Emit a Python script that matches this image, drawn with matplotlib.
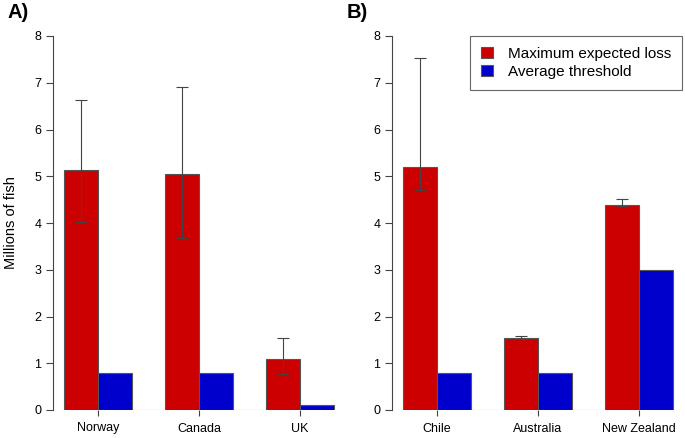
import numpy as np
import matplotlib
matplotlib.use("Agg")
from matplotlib import pyplot as plt
from matplotlib.patches import Patch

plt.rcParams['font.family'] = ['Liberation Sans', 'DejaVu Sans']

# panel A
countries_a = ["Norway", "Canada", "UK"]
loss_a = [5.14, 5.05, 1.10]
loss_lo_a = [4.03, 3.67, 0.78]
loss_hi_a = [6.63, 6.90, 1.53]
thresh_a = [0.8, 0.8, 0.1]

# panel B
countries_b = ["Chile", "Australia", "New Zealand"]
loss_b = [5.19, 1.55, 4.39]
loss_lo_b = [4.70, 1.52, 4.36]
loss_hi_b = [7.52, 1.58, 4.51]
thresh_b = [0.8, 0.8, 3.0]

RED = '#CC0000'
BLUE = '#0000CC'
EDGE = '#555555'
LINE = '#444444'

W, H = 685, 438


def panel(ax, names, loss, lo, hi, thresh):
    x = np.arange(len(names)) * 3
    ax.bar(x, loss, width=1, align='edge', color=RED, edgecolor=EDGE, linewidth=0.8, zorder=2)
    ax.bar(x + 1, thresh, width=1, align='edge', color=BLUE, edgecolor=EDGE, linewidth=0.8, zorder=2)
    loss = np.array(loss)
    yerr = [loss - np.array(lo), np.array(hi) - loss]
    ax.errorbar(x + 0.5, loss, yerr=yerr, fmt='none', ecolor=LINE, elinewidth=0.8,
                capsize=4, capthick=0.8, zorder=3)
    # grey baseline under the bars
    ax.hlines(0, x[0], x[-1] + 2, color='#888888', linewidth=0.8, zorder=1)

    ax.set_xlim(-0.33, 8.33)
    ax.set_ylim(0, 8)
    for s in ['top', 'right', 'bottom']:
        ax.spines[s].set_visible(False)
    ax.spines['left'].set_bounds(0, 8)
    ax.spines['left'].set_color(LINE)
    ax.spines['left'].set_linewidth(0.8)

    ax.set_xticks(x + 1)
    ax.set_xticklabels(names, fontsize=9)
    ax.set_yticks(range(0, 9))
    ax.tick_params(axis='y', direction='out', length=5, width=0.8, color=LINE, pad=3.5, labelsize=9)
    ax.tick_params(axis='x', direction='out', length=4, width=0.8, color=LINE, pad=5)
    ax.patch.set_visible(False)


fig = plt.figure(figsize=(W / 100, H / 100), dpi=100)
bottom = (H - 410) / H
height = 374 / H
width = 291.8 / W
ax1 = fig.add_axes([53 / W, bottom, width, height])
ax2 = fig.add_axes([392 / W, bottom, width, height])

panel(ax1, countries_a, loss_a, loss_lo_a, loss_hi_a, thresh_a)
panel(ax2, countries_b, loss_b, loss_lo_b, loss_hi_b, thresh_b)

ax1.set_ylabel("Millions of fish", fontsize=10.5, labelpad=12)

fig.text(8 / W, 1 - 13 / H, "A)", fontsize=14.5, fontweight='bold', va='center', ha='left')
fig.text(347 / W, 1 - 13 / H, "B)", fontsize=14.5, fontweight='bold', va='center', ha='left')

handles = [Patch(facecolor=RED, edgecolor=EDGE, linewidth=0.8),
           Patch(facecolor=BLUE, edgecolor=EDGE, linewidth=0.8)]
leg = ax2.legend(handles, ["Maximum expected loss", "Average threshold"],
                 loc='upper right', bbox_to_anchor=(0.994, 1.0), borderaxespad=0,
                 fontsize=11, fancybox=False, framealpha=1, edgecolor='#666666',
                 handlelength=0.8, handleheight=0.8, handletextpad=1.0,
                 labelspacing=0.25, borderpad=0.7)
leg.get_frame().set_linewidth(0.8)

fig.savefig("out.png", dpi=100)
